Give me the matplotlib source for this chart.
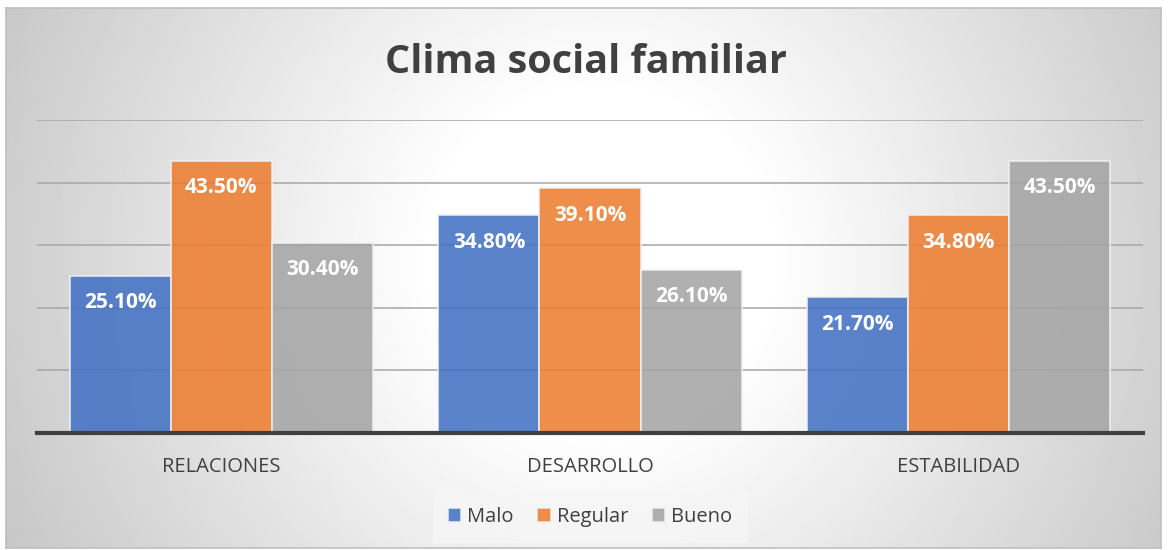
import matplotlib
matplotlib.use("Agg")
import matplotlib.pyplot as plt
import numpy as np

# ── data ──────────────────────────────────────────
categories = ["RELACIONES", "DESARROLLO", "ESTABILIDAD"]
malo = [25.1, 34.8, 21.7]
regular = [43.5, 39.1, 34.8]
bueno = [30.4, 26.1, 43.5]
series_names = ["Malo", "Regular", "Bueno"]
series_colors = ["#4472C4", "#ED7D31", "#A5A5A5"]

plt.rcParams["font.family"] = ["Open Sans", "DejaVu Sans"]

W, H = 1171, 550
fig = plt.figure(figsize=(W / 100, H / 100), dpi=100)

# ── chart area background (radial gradient, Excel style) ─────
bx0, by0, bx1, by1 = 6, 8, 1161, 548   # pixel box
bg = fig.add_axes([bx0 / W, 1 - by1 / H, (bx1 - bx0) / W, (by1 - by0) / H], zorder=0)
py, px = np.mgrid[by0:by1:2, bx0:bx1:2]
d = np.sqrt((px - 600.0) ** 2 + (py - 260.0) ** 2)
shade = np.clip(1.0 - 0.00045 * np.maximum(0, d - 170), 0.7, 1.0)
bg.imshow(shade, cmap="gray", vmin=0, vmax=1, extent=[0, 1, 0, 1],
          aspect="auto", origin="upper", interpolation="bilinear")
bg.set_xticks([])
bg.set_yticks([])
for s in bg.spines.values():
    s.set_color("#bfbfbf")
    s.set_linewidth(1.2)

# ── main bars ────────────────────────────────────
ax = fig.add_axes([37 / W, 1 - 433 / H, (1143 - 37) / W, (433 - 120) / H], zorder=1)
ax.patch.set_visible(False)

x = np.arange(len(categories))
width = 0.274
for i, (vals, name, col) in enumerate(zip([malo, regular, bueno], series_names, series_colors)):
    bars = ax.bar(x + (i - 1) * width, vals, width, color=col, alpha=0.88,
                  edgecolor="#f2f2f2", linewidth=1.2, label=name, zorder=3)
    for b, v in zip(bars, vals):
        ax.annotate(f"{v:.2f}%", (b.get_x() + b.get_width() / 2, v),
                    xytext=(0, -27), textcoords="offset pixels",
                    ha="center", va="center", color="white",
                    fontsize=15, fontweight="bold", zorder=4)

ax.set_xlim(-0.5, 2.5)
ax.set_ylim(0, 50)
ax.set_yticks([10, 20, 30, 40, 50])
ax.yaxis.grid(True, color="#a6a6a6", linewidth=1.1, zorder=1)
ax.tick_params(axis="y", length=0, labelleft=False)
ax.set_xticks(x)
ax.set_xticklabels(categories, fontsize=14.5, color="#404040")
ax.tick_params(axis="x", length=0, pad=17)
for side in ["top", "right", "left"]:
    ax.spines[side].set_visible(False)
ax.spines["bottom"].set_color("#404040")
ax.spines["bottom"].set_linewidth(3)
ax.spines["bottom"].set_zorder(5)

fig.text(0.5, 1 - 62 / H, "Clima social familiar", ha="center", va="center",
         fontsize=28.5, fontweight="bold", color="#404040")

leg = ax.legend(loc="center", bbox_to_anchor=(0.5, (433 - 517) / (433 - 120)),
                ncol=3, frameon=True, fontsize=14.5, handlelength=0.65, handleheight=0.65,
                handletextpad=0.3, columnspacing=1.2, borderpad=0.45)
leg.get_frame().set_facecolor("#f6f6f6")
leg.get_frame().set_edgecolor("#f6f6f6")
leg.get_frame().set_boxstyle("square")
for t in leg.get_texts():
    t.set_color("#404040")

fig.savefig("out.png", dpi=100)
